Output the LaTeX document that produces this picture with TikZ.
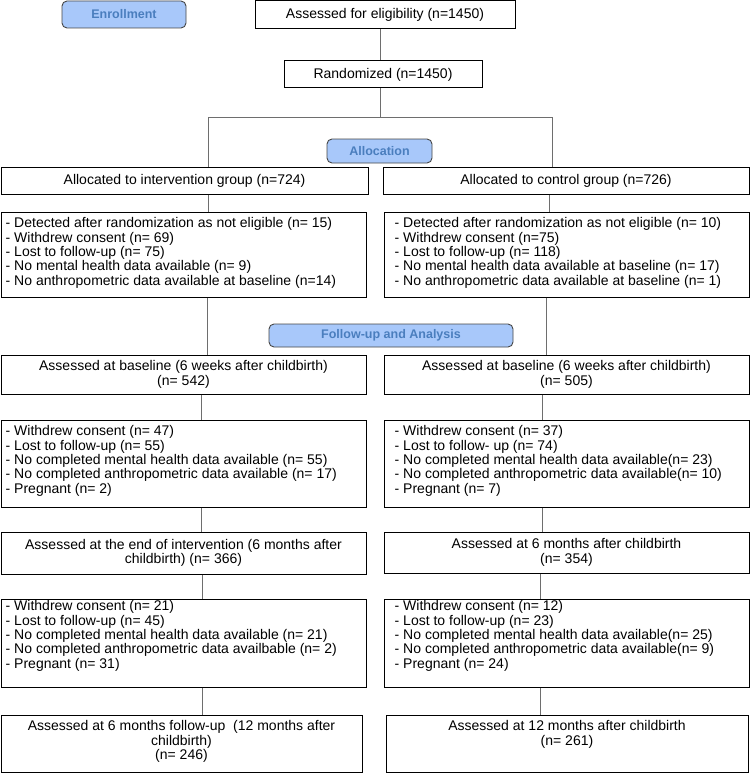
\documentclass[tikz,border=0pt]{standalone}
\usepackage{fontspec}
\setmainfont{Liberation Sans}
\definecolor{stagefill}{RGB}{168,200,250}
\definecolor{stagetext}{RGB}{74,126,190}
\definecolor{stageedge}{RGB}{70,70,70}
\definecolor{connc}{RGB}{110,110,110}
\begin{document}
\begin{tikzpicture}[x=1pt,y=-1pt,
  box/.style={draw=black, line width=1pt, inner sep=0pt, align=center,
    font=\fontsize{14}{14.3}\selectfont},
  stage/.style={draw=stageedge, fill=stagefill, rounded corners=5pt, line width=0.9pt,
    text=stagetext, inner sep=0pt, font=\fontsize{12.5}{14}\selectfont\bfseries},
  listtxt/.style={anchor=north west, inner sep=0pt, align=left,
    font=\fontsize{14}{14.3}\selectfont},
  toptxt/.style={anchor=north, inner sep=0pt, align=center,
    font=\fontsize{14}{14.3}\selectfont},
  conn/.style={draw=connc, line width=0.9pt}]
\useasboundingbox (0,0) rectangle (750,773);

% stage labels
\node[stage, minimum width=124pt, minimum height=27pt] (enroll) at (124,14.5) {Enrollment};
\node[stage, minimum width=105pt, minimum height=24pt] (alloclab) at (379.5,151) {Allocation};
\node[stage, minimum width=244pt, minimum height=23pt] (fulab) at (391,335.5) {Follow-up and Analysis};

% top boxes
\node[box, minimum width=260pt, minimum height=28pt] (elig) at (385,15) {Assessed for eligibility (n=1450)};
\node[box, minimum width=198pt, minimum height=27pt] (rand) at (383,74.5) {Randomized (n=1450)};

% allocation
\node[box, minimum width=367pt, minimum height=27pt] (allocI) at (184.5,180.5) {Allocated to intervention group (n=724)};
\node[box, minimum width=366pt, minimum height=27pt] (allocC) at (566,180.5) {Allocated to control group (n=726)};

% exclusions 1
\node[box, minimum width=365pt, minimum height=85pt] (exI1) at (183.5,254.5) {};
\node[listtxt] (exI1t) at ([shift={(5,6)}]exI1.north west) {%
- Detected after randomization as not eligible (n= 15)\\
- Withdrew consent (n= 69)\\
- Lost to follow-up (n= 75)\\
- No mental health data available (n= 9)\\
- No anthropometric data available at baseline (n=14)};
\node[box, minimum width=365pt, minimum height=85pt] (exC1) at (566.5,254.5) {};
\node[listtxt] (exC1t) at ([shift={(11,6)}]exC1.north west) {%
- Detected after randomization as not eligible (n= 10)\\
- Withdrew consent (n=75)\\
- Lost to follow-up (n= 118)\\
- No mental health data available at baseline (n= 17)\\
- No anthropometric data available at baseline (n= 1)};

% baseline
\node[box, minimum width=365pt, minimum height=39pt] (baseI) at (183.5,374.5) {Assessed at baseline (6 weeks after childbirth)\\(n= 542)};
\node[box, minimum width=365pt, minimum height=39pt] (baseC) at (566.5,374.5) {Assessed at baseline (6 weeks after childbirth)\\(n= 505)};

% exclusions 2
\node[box, minimum width=365pt, minimum height=87pt] (exI2) at (183.5,463.5) {};
\node[listtxt] (exI2t) at ([shift={(5,6)}]exI2.north west) {%
- Withdrew consent (n= 47)\\
- Lost to follow-up (n= 55)\\
- No completed mental health data available (n= 55)\\
- No completed anthropometric data available (n= 17)\\
- Pregnant (n= 2)};
\node[box, minimum width=365pt, minimum height=87pt] (exC2) at (566.5,463.5) {};
\node[listtxt] (exC2t) at ([shift={(11,6)}]exC2.north west) {%
- Withdrew consent (n= 37)\\
- Lost to follow- up (n= 74)\\
- No completed mental health data available(n= 23)\\
- No completed anthropometric data available(n= 10)\\
- Pregnant (n= 7)};

% six months
\node[box, minimum width=365pt, minimum height=42pt] (sixI) at (183.5,553) {Assessed at the end of intervention (6 months after\\childbirth) (n= 366)};
\node[box, minimum width=365pt, minimum height=41pt] (sixC) at (566.5,552.5) {Assessed at 6 months after childbirth\\(n= 354)};

% exclusions 3
\node[box, minimum width=365pt, minimum height=88pt] (exI3) at (183.5,643) {};
\node[listtxt] (exI3t) at ([shift={(5,2)}]exI3.north west) {%
- Withdrew consent (n= 21)\\
- Lost to follow-up (n= 45)\\
- No completed mental health data available (n= 21)\\
- No completed anthropometric data availbable (n= 2)\\
- Pregnant (n= 31)};
\node[box, minimum width=365pt, minimum height=88pt] (exC3) at (566.5,643) {};
\node[listtxt] (exC3t) at ([shift={(11,2)}]exC3.north west) {%
- Withdrew consent (n= 12)\\
- Lost to follow-up (n= 23)\\
- No completed mental health data available(n= 25)\\
- No completed anthropometric data available(n= 9)\\
- Pregnant (n= 24)};

% final
\node[box, minimum width=361pt, minimum height=57pt] (finI) at (181.5,743.5) {};
\node[toptxt] (finIt) at ([shift={(0,6)}]finI.north) {Assessed at 6 months follow-up\ \ (12 months after\\childbirth)\\(n= 246)};
\node[box, minimum width=362pt, minimum height=57pt] (finC) at (567,743.5) {};
\node[toptxt] (finCt) at ([shift={(0,6)}]finC.north) {Assessed at 12 months after childbirth\\(n= 261)};

% connector columns
\coordinate (jM) at (380,117);
\coordinate (jL) at (208,117);
\coordinate (jR) at (552,117);
\coordinate (l1) at (208,0);  \coordinate (r1) at (549,0);
\coordinate (l2) at (207,0);  \coordinate (r2) at (546,0);
\coordinate (l3) at (201,0);  \coordinate (r3) at (542,0);
\coordinate (l4) at (202,0);  \coordinate (r4) at (540,0);

\draw[conn] (elig.south -| jM) -- (rand.north -| jM);
\draw[conn] (rand.south -| jM) -- (jM);
\draw[conn] (allocI.north -| jL) -- (jL) -- (jR) -- (allocC.north -| jR);
\draw[conn] (allocI.south -| l1) -- (exI1.north -| l1);
\draw[conn] (allocC.south -| r1) -- (exC1.north -| r1);
\draw[conn] (exI1.south -| l2) -- (baseI.north -| l2);
\draw[conn] (exC1.south -| r2) -- (baseC.north -| r2);
\draw[conn] (baseI.south -| l3) -- (exI2.north -| l3);
\draw[conn] (baseC.south -| r3) -- (exC2.north -| r3);
\draw[conn] (exI2.south -| l3) -- (sixI.north -| l3);
\draw[conn] (exC2.south -| r3) -- (sixC.north -| r3);
\draw[conn] (sixI.south -| l4) -- (exI3.north -| l4);
\draw[conn] (sixC.south -| r4) -- (exC3.north -| r4);
\draw[conn] (exI3.south -| l4) -- (finI.north -| l4);
\draw[conn] (exC3.south -| r4) -- (finC.north -| r4);
\end{tikzpicture}
\end{document}
